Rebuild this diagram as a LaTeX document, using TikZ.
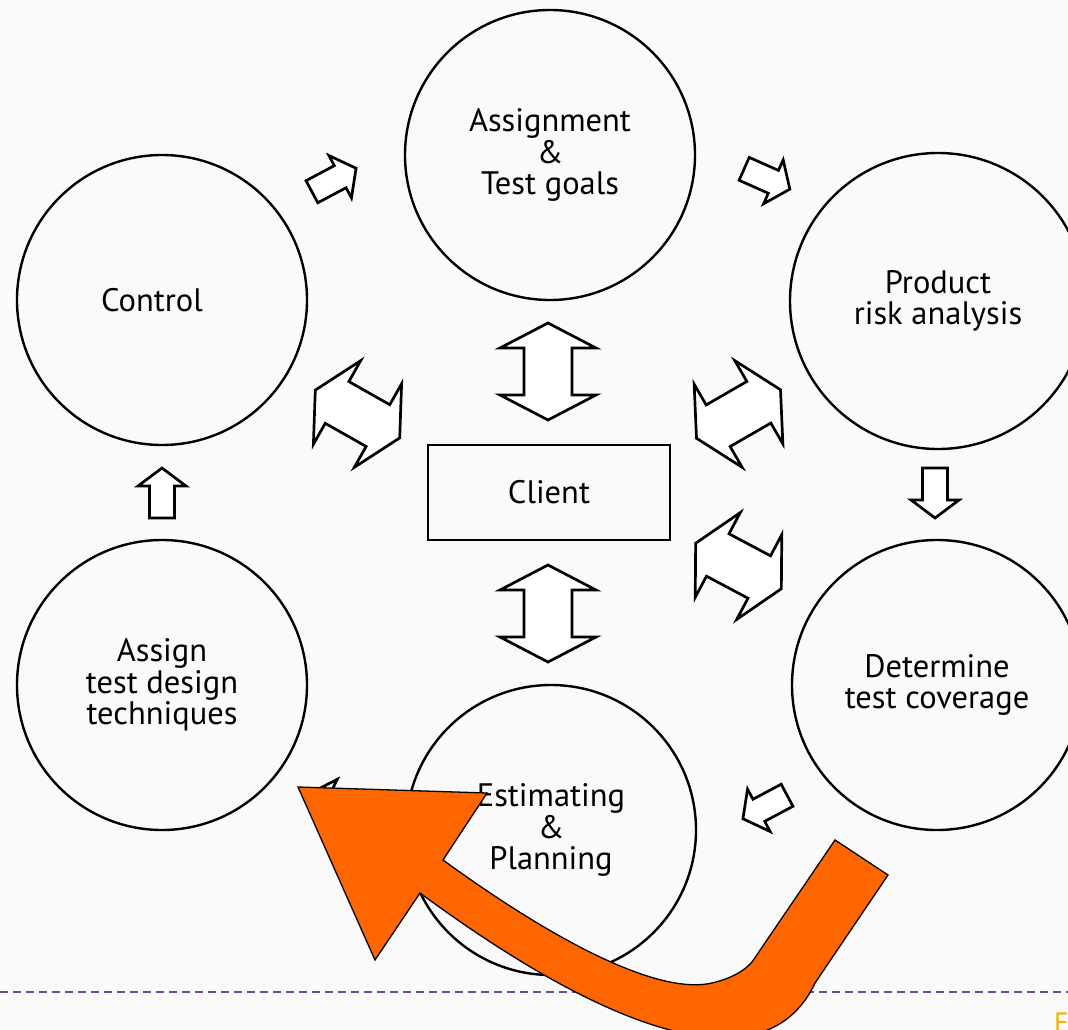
\documentclass[tikz,border=0pt]{standalone}
\usepackage{fontspec}
\setmainfont{PT Sans}
\definecolor{bgc}{HTML}{FAFAFA}
\definecolor{hookorange}{HTML}{FF6600}
\definecolor{rulepurple}{HTML}{6A4C9C}
\definecolor{gold}{HTML}{F0B400}
\tikzset{
  phase/.style={circle, draw=black, line width=2.4pt, minimum size=290pt, inner sep=0pt,
    align=center, font=\fontsize{32.5}{31.5}\selectfont},
  blk/.style={draw=black, line width=2.7pt, fill=white, line join=miter},
  % one-headed block arrow, pointing along +x
  sglarr/.pic={\draw[blk] (-25,12.5) -- (7,12.5) -- (7,24) -- (25,0) -- (7,-24)
      -- (7,-12.5) -- (-25,-12.5) -- cycle;},
  % two-headed block arrow, axis along x
  dblarr/.pic={\draw[blk] (-48.5,0) -- (-23.5,48) -- (-23.5,24) -- (23.5,24) -- (23.5,48)
      -- (48.5,0) -- (23.5,-48) -- (23.5,-24) -- (-23.5,-24) -- (-23.5,-48) -- cycle;}
}
\begin{document}
\begin{tikzpicture}[x=1pt, y=-1pt]
\fill[bgc] (0,0) rectangle (1068,1030);
\useasboundingbox (0,0) rectangle (1068,1030);

% phases of the cycle
\node[phase] (goals)    at (550,155) {Assignment\\\&\\Test goals};
\node[phase] (control)  at (162,300) {\hspace*{-20pt}Control};
\node[phase, minimum size=296pt] (risk) at (938,301) {Product\\risk analysis};
\node[phase] (coverage) at (937,685) {Determine\\test coverage};
\node[phase] (design)   at (162,685) {Assign\\test design\\techniques};
\node[phase] (plan)     at (551,830) {Estimating\\\&\\Planning};

% client in the middle
\node[draw=black, line width=2.2pt, minimum width=242pt, minimum height=95pt,
      font=\fontsize{32.5}{31.5}\selectfont] (client) at (549,492.5) {Client};

% one-way steps around the cycle
\coordinate (s1) at (334,180);
\coordinate (s2) at (767,179);
\coordinate (s3) at (935,493);
\coordinate (s4) at (765,807);
\coordinate (s5) at (333,804);
\coordinate (s6) at (162,493);
\pic[rotate=28]   at (s1) {sglarr};
\pic[rotate=-24]  at (s2) {sglarr};
\pic[rotate=-90]  at (s3) {sglarr};
\pic[rotate=208]  at (s4) {sglarr};
\pic[rotate=154]  at (s5) {sglarr};
\pic[rotate=90]   at (s6) {sglarr};

% exchanges with the client
\coordinate (d1) at (548,371.5);
\coordinate (d2) at (548,613.5);
\coordinate (d3) at (357.5,414);
\coordinate (d4) at (738.5,414);
\coordinate (d5) at (738.5,566);
\pic[rotate=90]    at (d1) {dblarr};
\pic[rotate=90]    at (d2) {dblarr};
\pic[rotate=-29.5] at (d3) {dblarr};
\pic[rotate=30]    at (d4) {dblarr};
\pic[rotate=-28]   at (d5) {dblarr};

% footer rule and slide letter
\draw[rulepurple, line width=1.6pt, dash pattern=on 8pt off 5pt] (0,992) -- (1068,992);
\node[anchor=north west, inner sep=0pt, text=gold, font=\fontsize{28}{30}\selectfont]
  (footer) at (1054,1013) {E};

% big hooked arrow
\draw[fill=hookorange, draw=black, line width=1.3pt, line join=miter]
  (835,840) -- (888,875) -- (815,983)
  .. controls (772,1075) and (640,1055) .. (420,893)
  -- (375,960) -- (298,787) -- (487,793) -- (443,860)
  .. controls (560,945) and (660,995) .. (712,983)
  .. controls (733,978) and (745,970) .. (752,962) -- cycle;
\end{tikzpicture}
\end{document}
